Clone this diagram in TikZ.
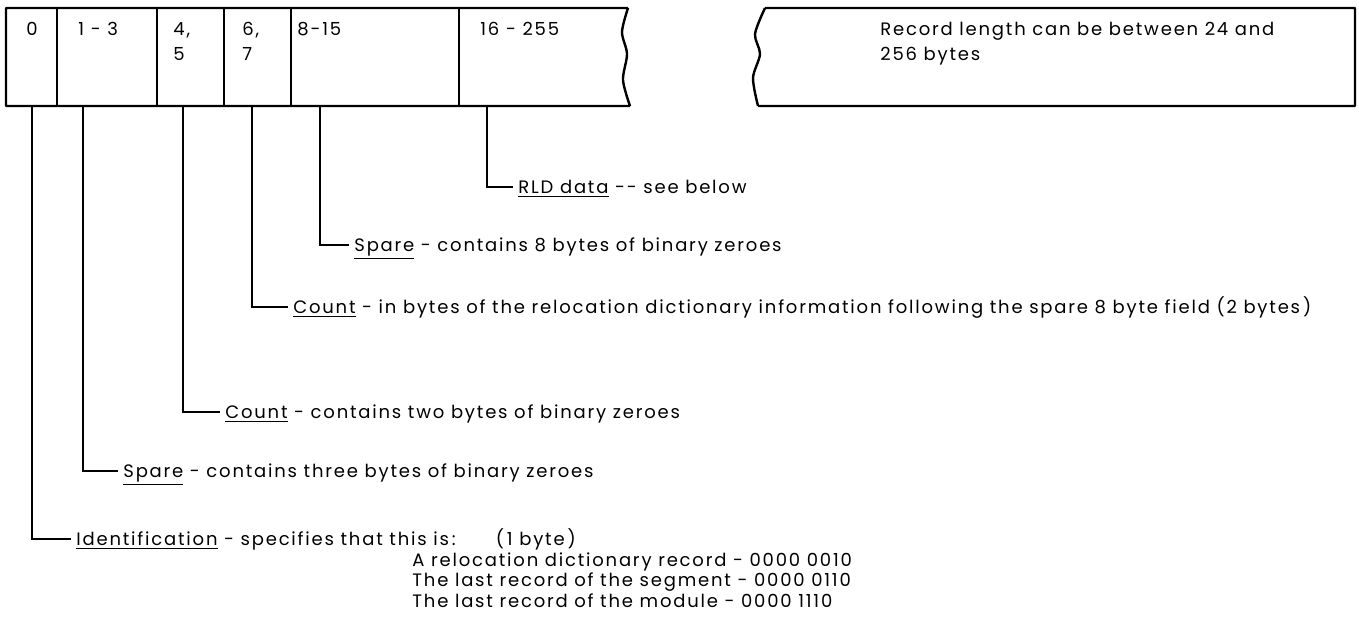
\documentclass[tikz,border=0pt]{standalone}
\usepackage{fontspec}
\setmainfont{Poppins}[LetterSpace=10]
\newcommand{\recfont}{\fontsize{9}{12.5}\selectfont}
\newcommand{\subfont}{\fontsize{9}{8.8}\selectfont}

\begin{document}
\begin{tikzpicture}[x=0.5pt, y=-0.5pt,
  rule/.style={line width=1.2pt, line join=round},
  label/.style={anchor=north west, inner sep=0pt, align=left, font=\recfont},
  note/.style={anchor=base west, inner sep=0pt, font=\recfont},
  leader/.style={line width=1.1pt}
]
\useasboundingbox (0,0) rectangle (1359,617);
\draw[rule] (628,8) -- (6,8) -- (6,106) -- (630,106)
  plot[smooth] coordinates {(630,106) (623,80) (627,54) (622,32) (628,8)};
\draw[rule] (765,8) -- (1355,8) -- (1355,106) -- (758,106)
  plot[smooth] coordinates {(758,106) (753,78) (760,54) (755,34) (765,8)};
\foreach \x in {57,157,224,291,459}
  \draw[rule] (\x,8) -- (\x,106);
\node[label] (b0) at (26,22) {0};
\node[label] (b1) at (78,22) {1 - 3};
\node[label] (b2) at (173,22) {4,\\5};
\node[label] (b3) at (242,22) {6,\\7};
\node[label] (b4) at (297,22) {8-15};
\node[label] (b5) at (480,22) {16 - 255};
\node[label] (len) at (880,22) {Record length can be between 24 and\\256 bytes};
\coordinate (f0) at (32,106);
\coordinate (f1) at (83,106);
\coordinate (f2) at (183,106);
\coordinate (f3) at (252,106);
\coordinate (f4) at (320,106);
\coordinate (f5) at (487,106);
\node[note] (rld) at (518,193) {\underline{RLD data} -{}- see below};
\node[note] (spare8) at (354,251) {\underline{Spare} - contains 8 bytes of binary zeroes};
\node[note] (count2) at (293,313) {\underline{Count} - in bytes of the relocation dictionary information following the spare 8 byte field (2 bytes\,)};
\node[note] (count0) at (225,418) {\underline{Count} - contains two bytes of binary zeroes};
\node[note] (spare3) at (123,477) {\underline{Spare} - contains three bytes of binary zeroes};
\node[note] (ident) at (76,545) {\underline{Identification} - specifies that this is\,:\hspace{20pt}(\,1 byte\,)};
\node[label, font=\subfont] (codes) at (412,552) {A relocation dictionary record - 0000 0010\\
The last record of the segment - 0000 0110\\
The last record of the module - 0000 1110};
\foreach \f/\t in {f0/ident, f1/spare3, f2/count0, f3/count2, f4/spare8, f5/rld}
  \draw[leader] (\f) |- ([shift={(-2.5pt,3.2pt)}]\t.base west);
\end{tikzpicture}
\end{document}
